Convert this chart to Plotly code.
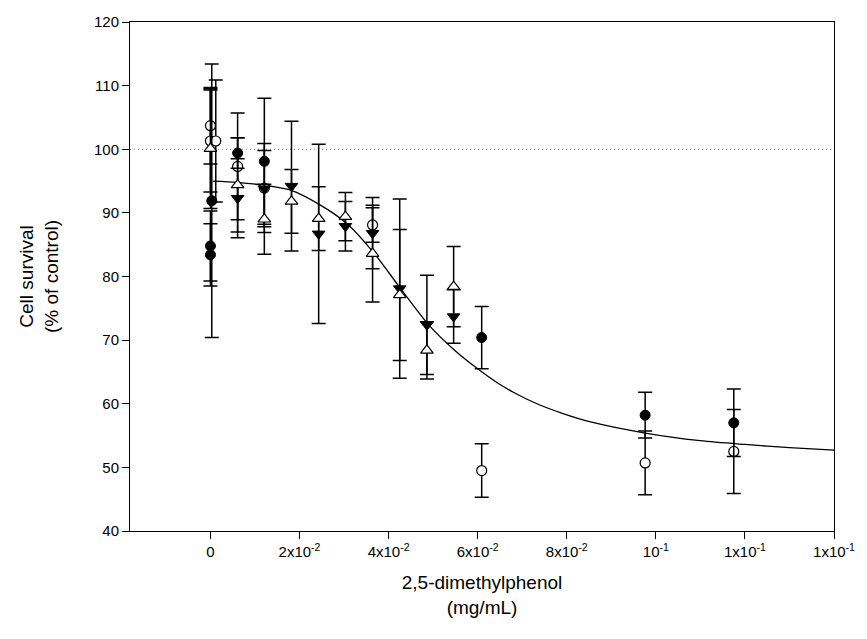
import plotly.graph_objects as go

# ---- data ----
fc_x = [0, 0, 0.0003, 0.0061, 0.0121, 0.0609, 0.0976, 0.1175]
fc_y = [84.8, 83.4, 91.9, 99.4, 98.1, 70.4, 58.2, 57.0]
fc_e = [5.5, 4.9, 21.5, 2.4, 9.9, 4.9, 3.6, 5.3]

oc_x = [0, 0, 0.0012, 0.0061, 0.0121, 0.0364, 0.0609, 0.0976, 0.1175]
oc_y = [103.7, 101.3, 101.3, 97.3, 93.9, 88.1, 49.5, 50.7, 52.5]
oc_e = [6.0, 8.0, 9.6, 8.4, 7.0, 2.7, 4.2, 5.0, 6.6]

td_x = [0.0061, 0.0121, 0.0182, 0.0243, 0.0303, 0.0364, 0.0425, 0.0486, 0.0546]
td_y = [92.3, 93.8, 94.2, 86.7, 87.9, 86.8, 78.1, 72.4, 73.7]
td_e = [6.2, 6.0, 10.2, 14.1, 3.9, 5.6, 14.1, 7.8, 4.2]

tu_x = [0, 0.0061, 0.0121, 0.0182, 0.0243, 0.0303, 0.0364, 0.0425, 0.0486, 0.0546]
tu_y = [100.1, 94.4, 89.0, 91.8, 89.1, 89.4, 83.6, 77.1, 68.4, 78.4]
tu_e = [9.4, 7.4, 5.5, 5.0, 5.0, 3.8, 7.6, 10.3, 4.5, 6.3]

fit_x = [0.0005, 0.006, 0.0124, 0.0183, 0.0245, 0.0305, 0.0368, 0.0429, 0.049,
         0.055, 0.06, 0.0644, 0.068, 0.0733, 0.079, 0.0856, 0.0976, 0.11, 0.12, 0.13, 0.14]
fit_y = [95.0, 94.8, 94.3, 93.5, 91.3, 88.4, 83.6, 77.9, 72.4,
         68.3, 65.5, 63.3, 61.8, 60.0, 58.5, 57.1, 55.4, 54.2, 53.6, 53.1, 52.7]

x_tickvals = [0, 0.02, 0.04, 0.06, 0.08, 0.10, 0.12, 0.14]
x_ticktext = ["0", "2x10<sup>-2</sup>", "4x10<sup>-2</sup>", "6x10<sup>-2</sup>",
              "8x10<sup>-2</sup>", "10<sup>-1</sup>", "1x10<sup>-1</sup>", "1x10<sup>-1</sup>"]

X_RANGE = [-0.01806, 0.14]
Y_RANGE = [40, 120]

fig = go.Figure()

# reference line at 100 %
fig.add_trace(go.Scatter(x=X_RANGE, y=[100, 100], mode="lines",
                         line=dict(color="#808080", width=1, dash="1px,3px"),
                         hoverinfo="skip", showlegend=False))

# fitted curve
fig.add_trace(go.Scatter(x=fit_x, y=fit_y, mode="lines",
                         line=dict(color="black", width=1.3, shape="spline", smoothing=0.8),
                         showlegend=False))

def err(e):
    return dict(type="data", array=e, visible=True, color="black",
                thickness=1.5, width=7)

fig.add_trace(go.Scatter(x=oc_x, y=oc_y, mode="markers", error_y=err(oc_e),
                         marker=dict(symbol="circle", size=10, color="white",
                                     line=dict(color="black", width=1.2)),
                         showlegend=False))
fig.add_trace(go.Scatter(x=fc_x, y=fc_y, mode="markers", error_y=err(fc_e),
                         marker=dict(symbol="circle", size=10, color="black",
                                     line=dict(color="black", width=1)),
                         showlegend=False))
fig.add_trace(go.Scatter(x=td_x, y=td_y, mode="markers", error_y=err(td_e),
                         marker=dict(symbol="triangle-down", size=11, color="black",
                                     line=dict(color="black", width=1)),
                         showlegend=False))
fig.add_trace(go.Scatter(x=tu_x, y=tu_y, mode="markers", error_y=err(tu_e),
                         marker=dict(symbol="triangle-up", size=11, color="white",
                                     line=dict(color="black", width=1.2)),
                         showlegend=False))

font = "Liberation Sans, Arial, sans-serif"
fig.update_layout(
    width=867, height=639,
    margin=dict(l=130, r=28, t=22, b=108),
    paper_bgcolor="white", plot_bgcolor="white",
    font=dict(family=font, color="black", size=15),
    xaxis=dict(range=X_RANGE, tickvals=x_tickvals, ticktext=x_ticktext,
               showgrid=False, zeroline=False, showline=True, mirror=True,
               linecolor="black", linewidth=1, ticks="outside", ticklen=7,
               tickcolor="black", tickfont=dict(size=15),
               title=dict(text="2,5-dimethylphenol<br>(mg/mL)",
                          font=dict(size=19), standoff=16)),
    yaxis=dict(range=Y_RANGE, tickvals=list(range(40, 121, 10)),
               showgrid=False, zeroline=False, showline=True, mirror=True,
               linecolor="black", linewidth=1, ticks="outside", ticklen=7,
               tickcolor="black", tickfont=dict(size=15),
               title=dict(text="Cell survival<br>(% of control)",
                          font=dict(size=19), standoff=30)),
)

fig.write_html("out.html")
